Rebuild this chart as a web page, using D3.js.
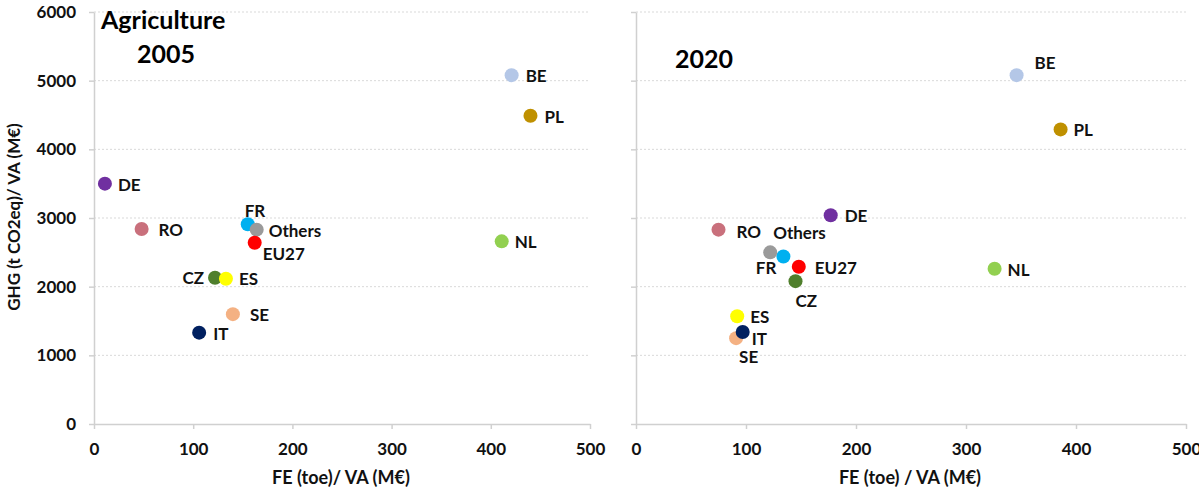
<!DOCTYPE html>
<html>
<head>
<meta charset="utf-8">
<script src="https://cdn.jsdelivr.net/npm/d3@7"></script>
<style>
  html, body { margin: 0; padding: 0; background: #fff; }
  svg { display: block; font-family: Lato, "Open Sans", sans-serif; font-weight: 700; }
</style>
</head>
<body>
<svg id="chart" width="1199" height="489"></svg>
<script>
// Countries / aggregates shown in both panels
const codes = ["DE", "RO", "FR", "Others", "EU27", "CZ", "ES", "SE", "IT", "BE", "PL", "NL"];
// Final energy intensity, toe per M€ value added
const fe2005 = [11, 48, 155, 164, 162, 122, 133, 140, 106, 421, 440, 411];
const fe2020 = [177, 75, 134, 122, 148, 145, 92, 91, 97, 346, 386, 326];
// GHG intensity, t CO2eq per M€ value added
const ghg2005 = [3500, 2840, 2910, 2830, 2640, 2130, 2115, 1600, 1330, 5080, 4490, 2660];
const ghg2020 = [3040, 2830, 2440, 2500, 2290, 2080, 1570, 1250, 1340, 5080, 4290, 2260];
const xTicks = [0, 100, 200, 300, 400, 500];
const yTicks = [0, 1000, 2000, 3000, 4000, 5000, 6000];

const colors = {
  DE: "#7030a0", RO: "#c9707c", FR: "#00b0f0", Others: "#9a9a9a", EU27: "#ff0000",
  CZ: "#4f7f2c", ES: "#ffff00", SE: "#f4b183", IT: "#002060", BE: "#b4c7e7",
  PL: "#bf9000", NL: "#92d050"
};

// Label placement relative to each point: [dx, dy, anchor]
const labelPos2005 = {
  DE: [13, 7, "start"], RO: [17, 7, "start"], FR: [-3, -7, "start"], Others: [12, 7, "start"],
  EU27: [8, 17, "start"], CZ: [-11, 6, "end"], ES: [13, 6, "start"], SE: [17, 7, "start"],
  IT: [14, 7, "start"], BE: [14, 7, "start"], PL: [14, 7, "start"], NL: [13, 7, "start"]
};
const labelPos2020 = {
  DE: [14, 7, "start"], RO: [18, 8, "start"], FR: [-7, 18, "end"], Others: [3, -13, "start"],
  EU27: [16, 7, "start"], CZ: [0, 26, "start"], ES: [13, 7, "start"], SE: [3, 25, "start"],
  IT: [9, 13, "start"], BE: [18, -6, "start"], PL: [13, 7, "start"], NL: [13, 7, "start"]
};

const svg = d3.select("#chart");
const plotTop = 12, plotBottom = 424;
const y = d3.scaleLinear().domain([0, 6000]).range([plotBottom, plotTop]);

const panels = [
  { left: 94, right: 590, fe: fe2005, ghg: ghg2005, labels: labelPos2005, yLabels: true,
    xTitle: "FE (toe)/ VA (M€)" },
  { left: 636, right: 1186, fe: fe2020, ghg: ghg2020, labels: labelPos2020, yLabels: false,
    xTitle: "FE (toe) / VA (M€)" }
];

panels.forEach(p => {
  const x = d3.scaleLinear().domain([0, 500]).range([p.left, p.right]);
  const g = svg.append("g");

  // dotted horizontal gridlines
  g.append("g").selectAll("line").data(yTicks.slice(1)).join("line")
    .attr("x1", p.left).attr("x2", p.right)
    .attr("y1", d => y(d)).attr("y2", d => y(d))
    .attr("stroke", "#d9d9d9").attr("stroke-width", 1).attr("stroke-dasharray", "2,2");

  // y axis
  const yAxis = d3.axisLeft(y).tickValues(yTicks).tickSize(5).tickSizeOuter(0)
    .tickPadding(13).tickFormat(p.yLabels ? d3.format("d") : () => "");
  const ya = g.append("g").attr("transform", `translate(${p.left},0)`).call(yAxis);
  // x axis
  const xAxis = d3.axisBottom(x).tickValues(xTicks).tickSize(5).tickSizeOuter(0)
    .tickPadding(14).tickFormat(d3.format("d"));
  const xa = g.append("g").attr("transform", `translate(0,${plotBottom})`).call(xAxis);

  [ya, xa].forEach(a => {
    a.select(".domain").attr("stroke", "#d0d0d0").attr("stroke-width", 1.5);
    a.selectAll(".tick line").attr("stroke", "#d0d0d0").attr("stroke-width", 1.5);
    a.selectAll(".tick text").attr("fill", "#111").attr("font-size", 17)
      .attr("font-family", "Lato, sans-serif").attr("font-weight", 700);
  });

  // x axis title
  g.append("text").attr("x", (p.left + p.right) / 2 - 1).attr("y", 484)
    .attr("text-anchor", "middle").attr("font-size", 18).attr("fill", "#111")
    .text(p.xTitle);

  // points
  const pts = codes.map((c, i) => ({ code: c, fe: p.fe[i], ghg: p.ghg[i] }));
  g.append("g").selectAll("circle").data(pts).join("circle")
    .attr("cx", d => x(d.fe)).attr("cy", d => y(d.ghg)).attr("r", 7)
    .attr("fill", d => colors[d.code]);

  // point labels
  g.append("g").selectAll("text").data(pts).join("text")
    .attr("x", d => x(d.fe) + p.labels[d.code][0])
    .attr("y", d => y(d.ghg) + p.labels[d.code][1])
    .attr("text-anchor", d => p.labels[d.code][2])
    .attr("font-size", 17).attr("fill", "#111")
    .text(d => d.code);
});

// y axis title
svg.append("text")
  .attr("transform", "translate(20,217) rotate(-90)")
  .attr("text-anchor", "middle").attr("font-size", 17).attr("fill", "#111")
  .text("GHG (t CO2eq)/ VA (M€)");

// panel titles
svg.append("text").attr("x", 101).attr("y", 29).attr("font-size", 25).attr("fill", "#000")
  .text("Agriculture");
svg.append("text").attr("x", 137).attr("y", 63).attr("font-size", 25).attr("fill", "#000")
  .text("2005");
svg.append("text").attr("x", 675).attr("y", 68).attr("font-size", 25).attr("fill", "#000")
  .text("2020");
</script>
</body>
</html>
